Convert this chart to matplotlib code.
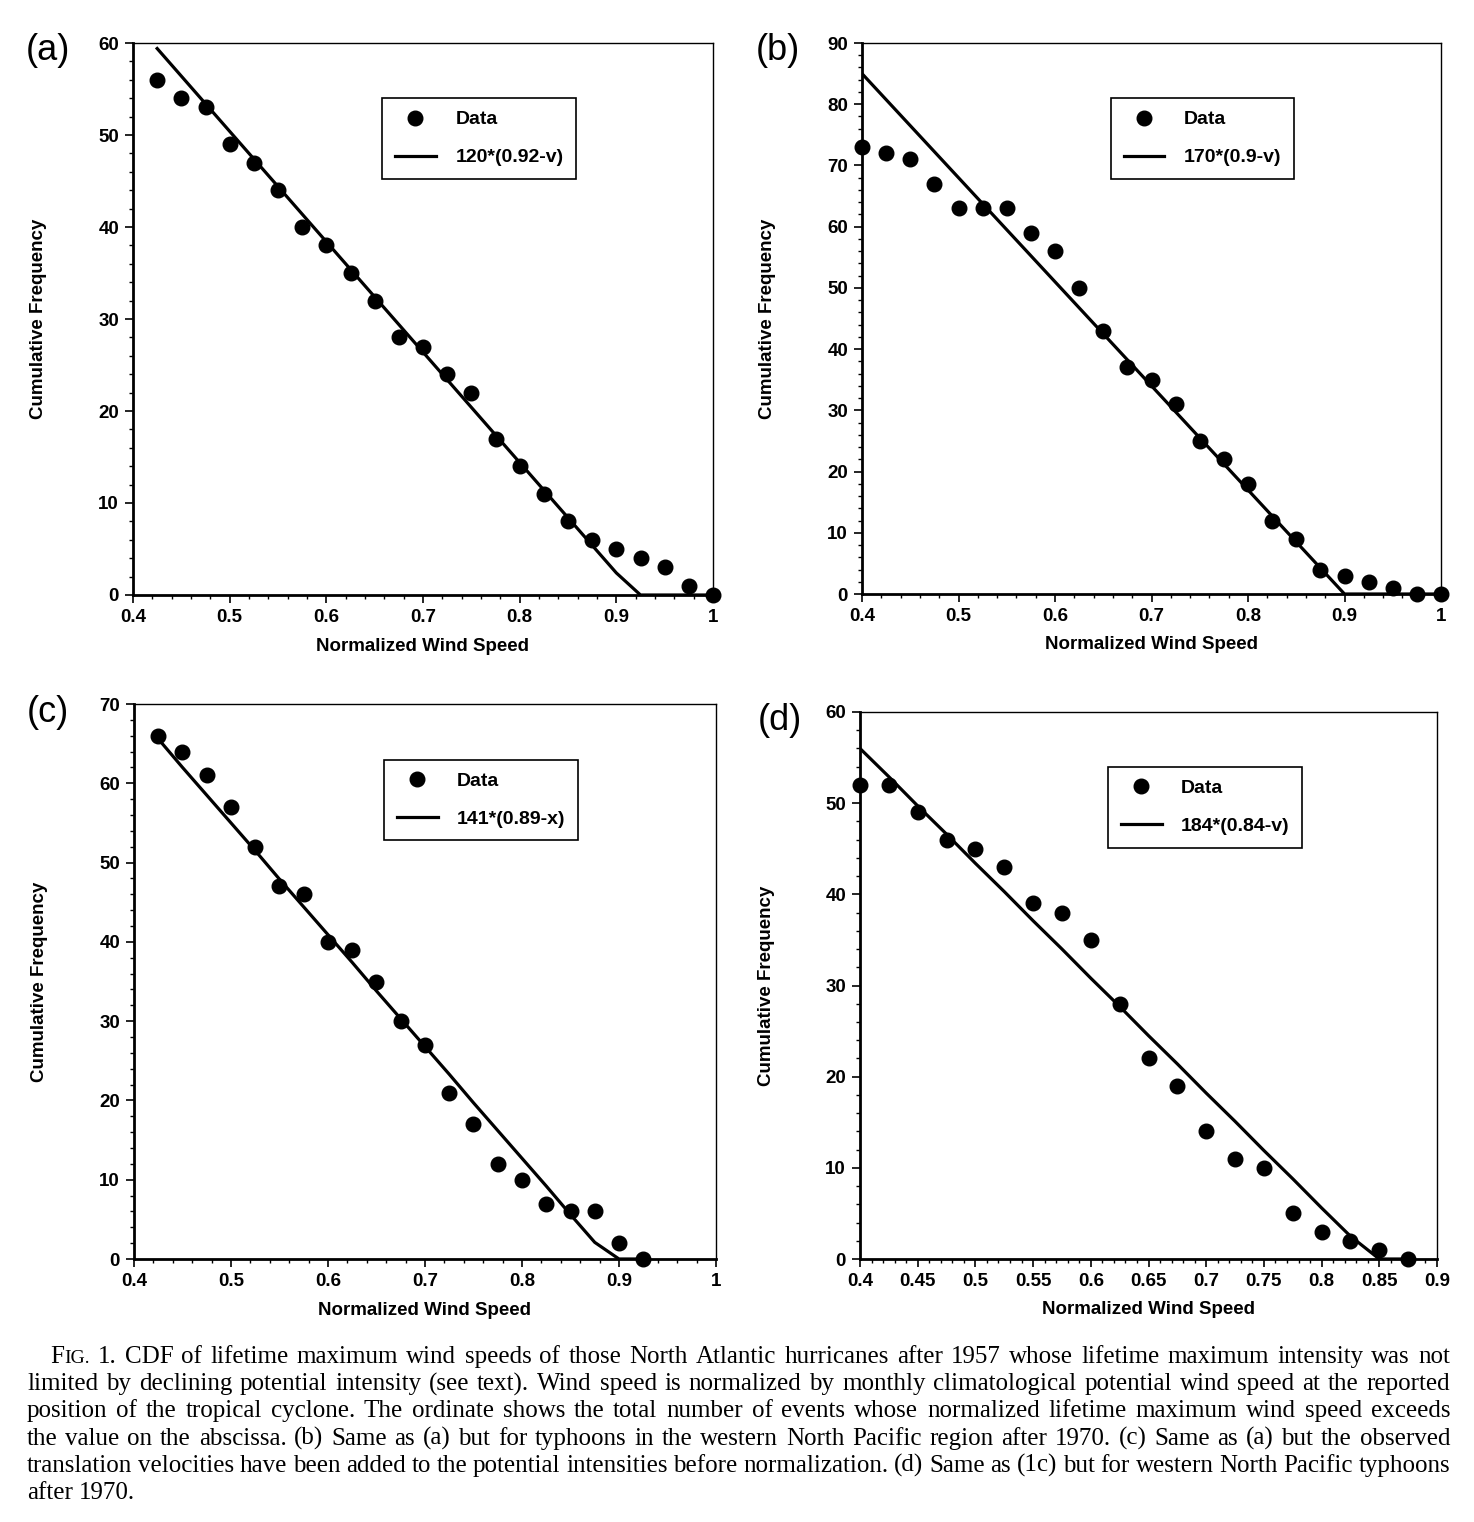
import numpy as np
import matplotlib

matplotlib.use("Agg")
import matplotlib.pyplot as plt
from matplotlib.ticker import MultipleLocator

# ---- data ----
# (a) North Atlantic
xa = [0.425, 0.45, 0.475, 0.5, 0.525, 0.55, 0.575, 0.6, 0.625, 0.65, 0.675, 0.7,
      0.725, 0.75, 0.775, 0.8, 0.825, 0.85, 0.875, 0.9, 0.925, 0.95, 0.975, 1.0]
ya = [56, 54, 53, 49, 47, 44, 40, 38, 35, 32, 28, 27,
      24, 22, 17, 14, 11, 8, 6, 5, 4, 3, 1, 0]
fa = [59.4, 56.4, 53.4, 50.4, 47.4, 44.4, 41.4, 38.4, 35.4, 32.4, 29.4, 26.4,
      23.4, 20.4, 17.4, 14.4, 11.4, 8.4, 5.4, 2.4, 0, 0, 0, 0]

# (b) western North Pacific
xb = [0.4, 0.425, 0.45, 0.475, 0.5, 0.525, 0.55, 0.575, 0.6, 0.625, 0.65, 0.675, 0.7,
      0.725, 0.75, 0.775, 0.8, 0.825, 0.85, 0.875, 0.9, 0.925, 0.95, 0.975, 1.0]
yb = [73, 72, 71, 67, 63, 63, 63, 59, 56, 50, 43, 37, 35,
      31, 25, 22, 18, 12, 9, 4, 3, 2, 1, 0, 0]
fb = [85, 80.75, 76.5, 72.25, 68, 63.75, 59.5, 55.25, 51, 46.75, 42.5, 38.25, 34,
      29.75, 25.5, 21.25, 17, 12.75, 8.5, 4.25, 0, 0, 0, 0, 0]

# (c) North Atlantic, translation velocity added
xc = [0.425, 0.45, 0.475, 0.5, 0.525, 0.55, 0.575, 0.6, 0.625, 0.65, 0.675, 0.7,
      0.725, 0.75, 0.775, 0.8, 0.825, 0.85, 0.875, 0.9, 0.925]
yc = [66, 64, 61, 57, 52, 47, 46, 40, 39, 35, 30, 27,
      21, 17, 12, 10, 7, 6, 6, 2, 0]
fc = [65.6, 62.0, 58.5, 55.0, 51.5, 47.9, 44.4, 40.9, 37.4, 33.8, 30.3, 26.8,
      23.3, 19.7, 16.2, 12.7, 9.2, 5.6, 2.1, 0, 0]

# (d) western North Pacific, translation velocity added
xd = [0.4, 0.425, 0.45, 0.475, 0.5, 0.525, 0.55, 0.575, 0.6, 0.625, 0.65, 0.675,
      0.7, 0.725, 0.75, 0.775, 0.8, 0.825, 0.85, 0.875]
yd = [52, 52, 49, 46, 45, 43, 39, 38, 35, 28, 22, 19,
      14, 11, 10, 5, 3, 2, 1, 0]
fd = [56, 52.9, 49.7, 46.6, 43.4, 40.3, 37.1, 34.0, 30.8, 27.7, 24.5, 21.4,
      18.2, 15.1, 11.9, 8.8, 5.6, 2.5, 0, 0]

fit_labels = ["120*(0.92-v)", "170*(0.9-v)", "141*(0.89-x)", "184*(0.84-v)"]
panel_names = ["(a)", "(b)", "(c)", "(d)"]

caption_lines = [
    "FIG. 1. CDF of lifetime maximum wind speeds of those North Atlantic hurricanes after 1957 whose lifetime maximum intensity was not",
    "limited by declining potential intensity (see text). Wind speed is normalized by monthly climatological potential wind speed at the reported",
    "position of the tropical cyclone. The ordinate shows the total number of events whose normalized lifetime maximum wind speed exceeds",
    "the value on the abscissa. (b) Same as (a) but for typhoons in the western North Pacific region after 1970. (c) Same as (a) but the observed",
    "translation velocities have been added to the potential intensities before normalization. (d) Same as (1c) but for western North Pacific typhoons",
    "after 1970.",
]

SANS = "Liberation Sans"
SERIF = "Liberation Serif"
W, H = 1474, 1522

fig = plt.figure(figsize=(W / 100, H / 100), dpi=100)


def px_axes(left, top, right, bottom):
    return fig.add_axes([left / W, 1 - bottom / H, (right - left) / W, (bottom - top) / H])


panels = [
    dict(rect=(133, 43, 713, 595), x=xa, y=ya, f=fa, xlim=(0.4, 1.0), ylim=(0, 60),
         xmaj=0.1, xmin=0.02, ymaj=10, ymin=2, lab=(48, 50)),
    dict(rect=(862, 43, 1441, 594), x=xb, y=yb, f=fb, xlim=(0.4, 1.0), ylim=(0, 90),
         xmaj=0.1, xmin=0.02, ymaj=10, ymin=2, lab=(778, 50)),
    dict(rect=(134, 704, 716, 1259), x=xc, y=yc, f=fc, xlim=(0.4, 1.0), ylim=(0, 70),
         xmaj=0.1, xmin=0.02, ymaj=10, ymin=2, lab=(48, 712)),
    dict(rect=(860, 712, 1437, 1259), x=xd, y=yd, f=fd, xlim=(0.4, 0.9), ylim=(0, 60),
         xmaj=0.05, xmin=0.01, ymaj=10, ymin=2, lab=(780, 720)),
]

for i, p in enumerate(panels):
    ax = px_axes(*p["rect"])
    ax.plot(p["x"], p["f"], color="black", linewidth=2.3, label=fit_labels[i], zorder=2)
    ax.plot(p["x"], p["y"], "o", color="black", markersize=10.5, label="Data",
            clip_on=False, zorder=3)
    ax.set_xlim(*p["xlim"])
    ax.set_ylim(*p["ylim"])
    ax.xaxis.set_major_locator(MultipleLocator(p["xmaj"]))
    ax.xaxis.set_minor_locator(MultipleLocator(p["xmin"]))
    ax.yaxis.set_major_locator(MultipleLocator(p["ymaj"]))
    ax.yaxis.set_minor_locator(MultipleLocator(p["ymin"]))
    ax.xaxis.set_major_formatter(lambda v, pos: ("%.2f" % v).rstrip("0").rstrip("."))
    ax.tick_params(which="major", direction="out", length=6, width=1.2, pad=4,
                   labelsize=13.5)
    ax.tick_params(which="minor", direction="out", length=3, width=1.0)
    for lbl in ax.get_xticklabels() + ax.get_yticklabels():
        lbl.set_fontfamily(SANS)
        lbl.set_fontweight("bold")
    ax.spines["left"].set_linewidth(2.0)
    ax.spines["bottom"].set_linewidth(2.0)
    ax.spines["top"].set_linewidth(1.0)
    ax.spines["right"].set_linewidth(1.0)

    ax.set_xlabel("Normalized Wind Speed", family=SANS, weight="bold", fontsize=13.5,
                  va="top")
    ax.set_ylabel("Cumulative Frequency", family=SANS, weight="bold", fontsize=13.5)
    ax.xaxis.set_label_coords(0.5, -0.077)
    ax.yaxis.set_label_coords(-0.148, 0.5)

    handles, labels = ax.get_legend_handles_labels()
    leg = ax.legend(handles[::-1], labels[::-1], loc="upper left",
                    bbox_to_anchor=(0.43, 0.9), frameon=True, fancybox=False,
                    edgecolor="black", framealpha=1, borderpad=0.65,
                    labelspacing=1.05, handlelength=2.1, handletextpad=1.0,
                    borderaxespad=0, prop=dict(family=SANS, weight="bold", size=14))
    leg.get_frame().set_linewidth(1.2)

    fig.text(p["lab"][0] / W, 1 - p["lab"][1] / H, panel_names[i], family=SANS,
             fontsize=26, ha="center", va="center")

# ---- caption, justified ----
CAP_SIZE = 18
x_left, x_right = 27, 1450
indent = 50
baseline0 = 1363
lead = 27.2

renderer = fig.canvas.get_renderer()


def measure(s, size):
    t = fig.text(0, 0, s, family=SERIF, fontsize=size)
    w = t.get_window_extent(renderer).width
    t.remove()
    return w


space_w = measure("a a", CAP_SIZE) - measure("aa", CAP_SIZE)

for li, line in enumerate(caption_lines):
    words = line.split(" ")
    x0 = indent if li == 0 else x_left
    y = 1 - (baseline0 + li * lead) / H
    widths = []
    for w in words:
        if w == "FIG.":
            widths.append(measure("F", CAP_SIZE) + measure("IG.", CAP_SIZE * 0.78))
        else:
            widths.append(measure(w, CAP_SIZE))
    last = li == len(caption_lines) - 1
    if last or len(words) < 2:
        gap = space_w
    else:
        gap = (x_right - x0 - sum(widths)) / (len(words) - 1)
    x = x0
    for w, wd in zip(words, widths):
        if w == "FIG.":
            fig.text(x / W, y, "F", family=SERIF, fontsize=CAP_SIZE, va="baseline")
            fx = x + measure("F", CAP_SIZE)
            fig.text(fx / W, y, "IG.", family=SERIF, fontsize=CAP_SIZE * 0.78,
                     va="baseline")
        else:
            fig.text(x / W, y, w, family=SERIF, fontsize=CAP_SIZE, va="baseline")
        x += wd + gap

fig.savefig("out.png", dpi=100)
